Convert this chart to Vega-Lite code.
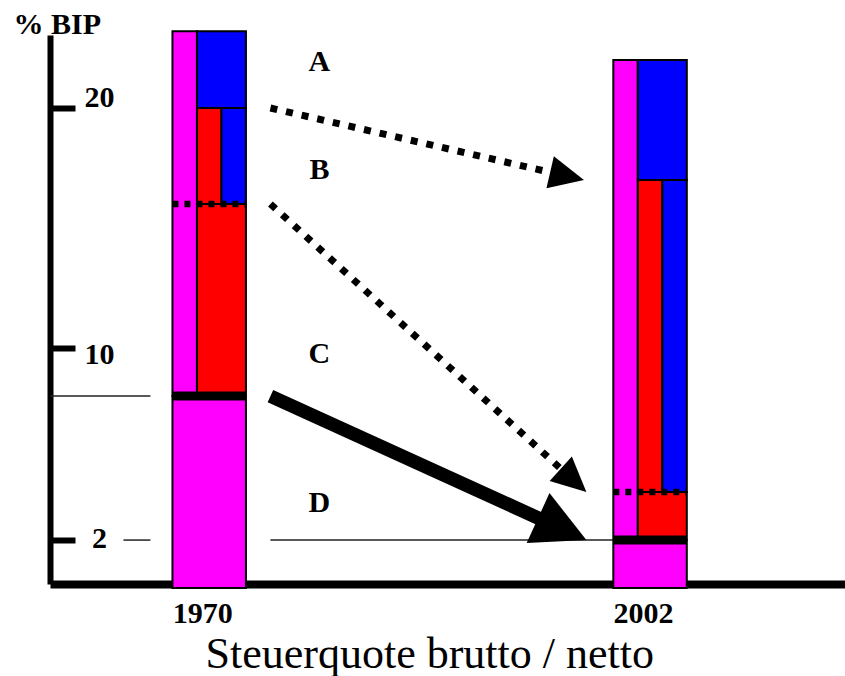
{
  "$schema": "https://vega.github.io/schema/vega-lite/v6.json",
  "width": 796,
  "height": 549,
  "autosize": {"type": "none"},
  "padding": {"left": 50, "top": 35, "right": 0, "bottom": 92},
  "background": "white",
  "config": {
    "view": {"stroke": null},
    "font": "Liberation Serif",
    "axis": {"grid": false, "domainColor": "black", "tickColor": "black", "labelColor": "black", "titleColor": "black", "zindex": 1}
  },
  "datasets": {
    "segments": [
      {"year": "1970", "part": "Pink", "x0": 0, "x1": 1, "lo": 8, "hi": 23.2},
      {"year": "1970", "part": "Blue", "x0": 1, "x1": 3, "lo": 20, "hi": 23.2},
      {"year": "1970", "part": "Red", "x0": 1, "x1": 3, "lo": 8, "hi": 16},
      {"year": "1970", "part": "Red", "x0": 1, "x1": 2, "lo": 16, "hi": 20},
      {"year": "1970", "part": "Blue", "x0": 2, "x1": 3, "lo": 16, "hi": 20},
      {"year": "1970", "part": "Pink", "x0": 0, "x1": 3, "lo": 0, "hi": 8},
      {"year": "2002", "part": "Pink", "x0": 18, "x1": 19, "lo": 2, "hi": 22},
      {"year": "2002", "part": "Blue", "x0": 19, "x1": 21, "lo": 17, "hi": 22},
      {"year": "2002", "part": "Red", "x0": 19, "x1": 21, "lo": 2, "hi": 4},
      {"year": "2002", "part": "Red", "x0": 19, "x1": 20, "lo": 4, "hi": 17},
      {"year": "2002", "part": "Blue", "x0": 20, "x1": 21, "lo": 4, "hi": 17},
      {"year": "2002", "part": "Pink", "x0": 18, "x1": 21, "lo": 0, "hi": 2}
    ],
    "netto": [
      {"year": "1970", "x0": 0, "x1": 3, "level": 8},
      {"year": "2002", "x0": 18, "x1": 21, "level": 2}
    ],
    "brutto": [
      {"year": "1970", "x0": 0, "x1": 3, "level": 16},
      {"year": "2002", "x0": 18, "x1": 21, "level": 4}
    ],
    "guides": [
      {"name": "8 left", "x0": -5, "x1": -0.9, "level": 8},
      {"name": "2 left", "x0": -2, "x1": -0.9, "level": 2},
      {"name": "D", "x0": 4, "x1": 18, "level": 2}
    ],
    "arrows": [
      {"arrow": "A", "sx": 4, "sy": 20, "ex": 16.1, "ey": 17.16, "tx": 16.8, "ty": 17},
      {"arrow": "B", "sx": 4, "sy": 16, "ex": 16.38, "ey": 4.48, "tx": 16.9, "ty": 4},
      {"arrow": "C", "sx": 4, "sy": 8, "ex": 15.9, "ey": 2.47, "tx": 16.9, "ty": 2}
    ],
    "letters": [
      {"label": "A", "px": 6, "py": 21.9},
      {"label": "B", "px": 6, "py": 17.4},
      {"label": "C", "px": 6, "py": 9.75},
      {"label": "D", "px": 6, "py": 3.55}
    ]
  },
  "layer": [
    {
      "data": {"name": "segments"},
      "mark": {"type": "rect", "stroke": "black", "strokeWidth": 2},
      "encoding": {
        "x": {
          "field": "x0", "type": "quantitative",
          "scale": {"domain": [-5, 27.5], "nice": false, "zero": false},
          "axis": {
            "values": [1.5, 19.5],
            "labelExpr": "datum.value < 10 ? '1970' : '2002'",
            "ticks": false, "tickSize": 0, "domainWidth": 8,
            "labelFont": "Liberation Serif", "labelFontSize": 30, "labelFontWeight": "bold",
            "labelBaseline": "middle", "labelPadding": 29, "labelOffset": -7, "labelFlush": false,
            "title": "Steuerquote brutto / netto",
            "titleFont": "Liberation Serif", "titleFontSize": 44, "titleFontWeight": "normal",
            "titleAlign": "left", "titleAnchor": "start", "titleX": 155, "titleY": 83, "titleBaseline": "alphabetic"
          }
        },
        "x2": {"field": "x1"},
        "y": {
          "field": "lo", "type": "quantitative",
          "scale": {"domain": [0.17, 23.04], "nice": false, "zero": false},
          "axis": {
            "values": [2, 10, 20],
            "title": "% BIP", "titleAngle": 0, "titleAlign": "left", "titleBaseline": "alphabetic",
            "titleX": -37, "titleY": -2,
            "titleFont": "Liberation Serif", "titleFontSize": 30, "titleFontWeight": "bold",
            "tickSize": -25, "tickWidth": 6, "domainWidth": 6,
            "labelFont": "Liberation Serif", "labelFontSize": 30, "labelFontWeight": "bold",
            "labelAlign": "center", "labelBaseline": "middle", "labelPadding": -24,
            "labelOffset": {"condition": [{"test": "datum.value === 20", "value": -10}, {"test": "datum.value === 10", "value": 6}], "value": -2},
            "labelFlush": false, "labelOverlap": false
          }
        },
        "y2": {"field": "hi"},
        "color": {
          "field": "part", "type": "nominal",
          "scale": {"domain": ["Pink", "Red", "Blue"], "range": ["#FF00FF", "#FF0000", "#0000FF"]},
          "legend": null
        }
      }
    },
    {
      "data": {"name": "netto"},
      "mark": {"type": "rule", "color": "black", "strokeWidth": 9},
      "encoding": {
        "x": {"field": "x0", "type": "quantitative"},
        "x2": {"field": "x1"},
        "y": {"field": "level", "type": "quantitative"}
      }
    },
    {
      "data": {"name": "brutto"},
      "mark": {"type": "rule", "color": "black", "strokeWidth": 6.5, "strokeDash": [6, 6]},
      "encoding": {
        "x": {"field": "x0", "type": "quantitative"},
        "x2": {"field": "x1"},
        "y": {"field": "level", "type": "quantitative"}
      }
    },
    {
      "data": {"name": "guides"},
      "mark": {"type": "rule", "color": "#222222", "strokeWidth": 1.5},
      "encoding": {
        "x": {"field": "x0", "type": "quantitative"},
        "x2": {"field": "x1"},
        "y": {"field": "level", "type": "quantitative"}
      }
    },
    {
      "data": {"name": "arrows"},
      "transform": [{"filter": "datum.arrow !== 'C'"}],
      "mark": {"type": "rule", "color": "black", "strokeWidth": 7, "strokeDash": [7, 9]},
      "encoding": {
        "x": {"field": "sx", "type": "quantitative"},
        "y": {"field": "sy", "type": "quantitative"},
        "x2": {"field": "ex"},
        "y2": {"field": "ey"}
      }
    },
    {
      "data": {"name": "arrows"},
      "transform": [{"filter": "datum.arrow === 'C'"}],
      "mark": {"type": "rule", "color": "black", "strokeWidth": 13.5},
      "encoding": {
        "x": {"field": "sx", "type": "quantitative"},
        "y": {"field": "sy", "type": "quantitative"},
        "x2": {"field": "ex"},
        "y2": {"field": "ey"}
      }
    },
    {
      "data": {"name": "arrows"},
      "transform": [{"filter": "datum.arrow === 'A'"}],
      "mark": {"type": "point", "shape": "M0,0L-2.1,-1L-2.1,1Z", "filled": true, "color": "black", "opacity": 1, "size": 1089, "angle": 12.9},
      "encoding": {
        "x": {"field": "tx", "type": "quantitative"},
        "y": {"field": "ty", "type": "quantitative"}
      }
    },
    {
      "data": {"name": "arrows"},
      "transform": [{"filter": "datum.arrow === 'B'"}],
      "mark": {"type": "point", "shape": "M0,0L-2.1,-1L-2.1,1Z", "filled": true, "color": "black", "opacity": 1, "size": 1089, "angle": 42.3},
      "encoding": {
        "x": {"field": "tx", "type": "quantitative"},
        "y": {"field": "ty", "type": "quantitative"}
      }
    },
    {
      "data": {"name": "arrows"},
      "transform": [{"filter": "datum.arrow === 'C'"}],
      "mark": {"type": "point", "shape": "M0,0L-1.93,-1L-1.93,1Z", "filled": true, "color": "black", "opacity": 1, "size": 3025, "angle": 24.5},
      "encoding": {
        "x": {"field": "tx", "type": "quantitative"},
        "y": {"field": "ty", "type": "quantitative"}
      }
    },
    {
      "data": {"name": "letters"},
      "mark": {"type": "text", "font": "Liberation Serif", "fontSize": 30, "fontWeight": "bold", "color": "black", "align": "center", "baseline": "middle"},
      "encoding": {
        "x": {"field": "px", "type": "quantitative"},
        "y": {"field": "py", "type": "quantitative"},
        "text": {"field": "label"}
      }
    }
  ]
}
